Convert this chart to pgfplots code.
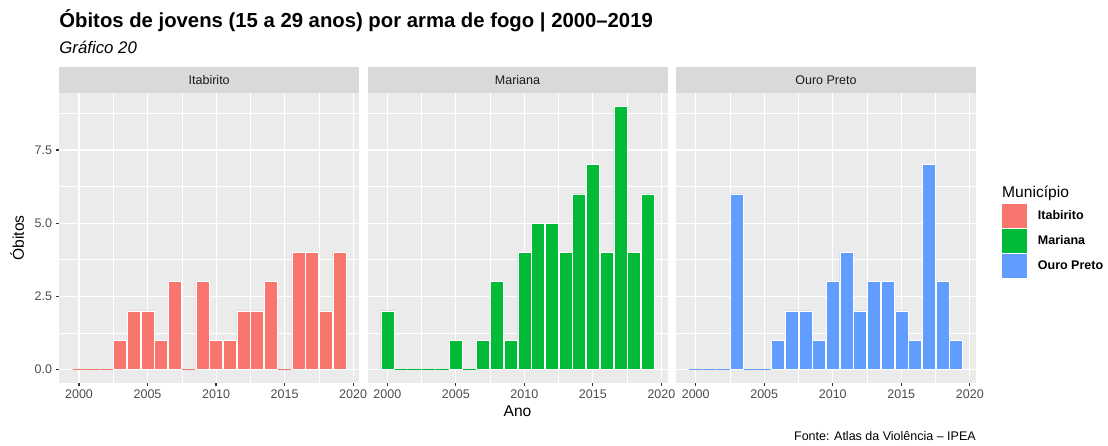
\documentclass[border=0pt]{standalone}
\usepackage{fontspec}
\setmainfont{Liberation Sans}
\usepackage{pgfplots}
\pgfplotsset{compat=1.18}
\definecolor{c1}{HTML}{F8766D}
\definecolor{c2}{HTML}{00BA38}
\definecolor{c3}{HTML}{619CFF}
\definecolor{bgp}{HTML}{EBEBEB}
\definecolor{strip}{HTML}{D9D9D9}
\definecolor{g30}{HTML}{4D4D4D}
\definecolor{g20}{HTML}{333333}
\definecolor{g10}{HTML}{1A1A1A}
\newcommand{\fs}[1]{\fontsize{#1}{#1}\selectfont}
\pgfplotsset{
  panel/.style={
    scale only axis, width=300pt, height=289.8pt,
    xmin=1998.555, xmax=2020.445, ymin=-0.45, ymax=9.45,
    axis x line*=bottom, axis y line*=left,
    axis line style={draw=none, -},
    axis background/.style={fill=bgp},
    xtick={2000,2005,...,2020}, minor xtick={2002.5,2007.5,2012.5,2017.5},
    ytick={0,2.5,5,7.5}, minor ytick={1.25,3.75,6.25,8.75},
    grid=both,
    major grid style={white, line width=1.07pt},
    minor grid style={white, line width=0.53pt},
    tick align=outside,
    major tick length=3.7pt, minor tick length=0pt,
    xtick style={draw=g20, line width=1.15pt},
    ytick style={draw=g20, line width=1.15pt},
    /pgf/number format/assume math mode=true,
    xticklabel style={font=\fs{12.5}, text=g30, /pgf/number format/1000 sep={}},
    yticklabel style={font=\fs{12.5}, text=g30, /pgf/number format/fixed, /pgf/number format/fixed zerofill, /pgf/number format/precision=1},
    every axis title/.style={at={(0.5,1)}, anchor=south, fill=strip, minimum width=300pt, minimum height=26pt, inner sep=0pt, text=g10, font=\fs{12.5}},
  },
  bars/.style={ybar, bar width=13pt, bar shift=0pt, draw=white, line width=0.5pt, fill=#1},
  zeros/.style={ybar, bar width=13pt, bar shift=0pt, draw=#1, fill=none, line width=1pt},
}
\begin{document}
\begin{tikzpicture}[x=1pt,y=1pt]
\useasboundingbox (0,0) rectangle (1108,445);
% Panel 1
\begin{axis}[panel, at={(59.2pt,62.3pt)}, anchor=south west, title={Itabirito}]
\addplot[bars=c1] coordinates {
(2000,0)(2001,0)(2002,0)(2003,1)(2004,2)(2005,2)(2006,1)(2007,3)(2008,0)(2009,3)
(2010,1)(2011,1)(2012,2)(2013,2)(2014,3)(2015,0)(2016,4)(2017,4)(2018,2)(2019,4)};
\addplot[zeros=c1] coordinates {(2000,0)(2001,0)(2002,0)(2008,0)(2015,0)};
\end{axis}
% Panel 2
\begin{axis}[panel, at={(367.5pt,62.3pt)}, anchor=south west, title={Mariana}, yticklabels={}, ytick style={draw=none}]
\addplot[bars=c2] coordinates {
(2000,2)(2001,0)(2002,0)(2003,0)(2004,0)(2005,1)(2006,0)(2007,1)(2008,3)(2009,1)
(2010,4)(2011,5)(2012,5)(2013,4)(2014,6)(2015,7)(2016,4)(2017,9)(2018,4)(2019,6)};
\addplot[zeros=c2] coordinates {(2001,0)(2002,0)(2003,0)(2004,0)(2006,0)};
\end{axis}
% Panel 3
\begin{axis}[panel, at={(675.9pt,62.3pt)}, anchor=south west, title={Ouro Preto}, yticklabels={}, ytick style={draw=none},
  legend style={at={(axis description cs:1.087,0.489)}, anchor=west, draw=none, fill=none, inner sep=0pt, outer sep=0pt,
    row sep=2pt, font=\fs{12.5}\bfseries, cells={anchor=west},
    /tikz/every odd column/.append style={column sep=9.5pt}}]
\addplot[bars=c3, forget plot] coordinates {
(2000,0)(2001,0)(2002,0)(2003,6)(2004,0)(2005,0)(2006,1)(2007,2)(2008,2)(2009,1)
(2010,3)(2011,4)(2012,2)(2013,3)(2014,3)(2015,2)(2016,1)(2017,7)(2018,3)(2019,1)};
\addplot[zeros=c3, forget plot] coordinates {(2000,0)(2001,0)(2002,0)(2004,0)(2005,0)};
\addlegendimage{legend image code/.code={\fill[c1] (0pt,-11.3pt) rectangle (24pt,11.3pt);}}
\addlegendentry{Itabirito}
\addlegendimage{legend image code/.code={\fill[c2] (0pt,-11.3pt) rectangle (24pt,11.3pt);}}
\addlegendentry{Mariana}
\addlegendimage{legend image code/.code={\fill[c3] (0pt,-11.3pt) rectangle (24pt,11.3pt);}}
\addlegendentry{Ouro Preto}
\end{axis}
% Texts
\node[anchor=base west, inner sep=0pt, font=\fs{20.3}\bfseries] at (59.2,417) {Óbitos de jovens (15 a 29 anos) por arma de fogo | 2000–2019};
\node[anchor=base west, inner sep=0pt, font=\fs{16.8}\itshape] at (59.2,391.5) {Gráfico 20};
\node[anchor=base, rotate=90, inner sep=0pt, font=\fs{15.6}] at (24,207.2) {Óbitos};
\node[anchor=base, inner sep=0pt, font=\fs{15.6}] at (517.5,29) {Ano};
\node[anchor=base east, inner sep=0pt, font=\fs{12.5}] at (975.9,5) {Fonte: Atlas da Violência – IPEA};
\node[anchor=base west, inner sep=0pt, font=\fs{15.6}] at (1002,247) {Município};
\end{tikzpicture}
\end{document}
